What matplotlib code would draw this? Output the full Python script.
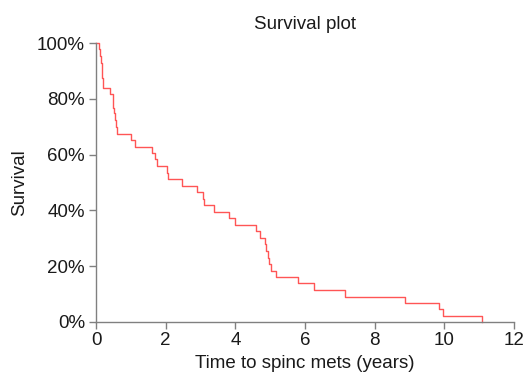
import matplotlib
matplotlib.use('Agg')
import matplotlib.pyplot as plt
from matplotlib.ticker import PercentFormatter

# step points: time (years) and survival (%) after each drop
times = [0, 0.09, 0.12, 0.14, 0.16, 0.18, 0.21, 0.40, 0.48, 0.50, 0.51, 0.54, 0.57, 0.59,
         1.01, 1.13, 1.62, 1.69, 1.75, 2.03, 2.06, 2.48, 2.89, 3.08, 3.11, 3.40, 3.81,
         3.99, 4.58, 4.71, 4.85, 4.87, 4.93, 4.98, 5.02, 5.16, 5.81, 6.27, 7.15, 8.88,
         9.84, 9.96, 11.07]
surv = [100, 97.7, 95.3, 93.0, 90.9, 87.3, 84.0, 81.6, 79.1, 76.7, 74.8, 72.4, 69.8, 67.4,
        65.2, 62.8, 60.5, 58.4, 55.8, 53.5, 51.2, 48.8, 46.5, 44.2, 41.9, 39.5, 37.2,
        34.9, 32.6, 30.2, 27.9, 25.4, 23.1, 20.8, 18.4, 16.1, 13.8, 11.4, 9.1, 6.8,
        4.5, 2.2, 0]
xticks = [0, 2, 4, 6, 8, 10, 12]
yticks = [0, 20, 40, 60, 80, 100]

plt.rcParams['font.family'] = ['Liberation Sans', 'DejaVu Sans']
fig = plt.figure(figsize=(5.28, 3.73), dpi=100)
ax = fig.add_axes([96 / 528, 1 - 322 / 373, (514 - 96) / 528, (322 - 43) / 373])

ax.step(times, surv, where='post', color='#ff5555', linewidth=1.0, clip_on=False)

ax.set_xlim(0, 12)
ax.set_ylim(0, 100)
ax.set_xticks(xticks)
ax.set_yticks(yticks)
ax.yaxis.set_major_formatter(PercentFormatter(decimals=0))
for s in ['top', 'right']:
    ax.spines[s].set_visible(False)
for s in ['left', 'bottom']:
    ax.spines[s].set_color('#808080')
    ax.spines[s].set_linewidth(1.0)
ax.tick_params(colors='#808080', labelcolor='#1a1a1a', labelsize=13.5, length=5, width=1.0)
ax.tick_params(axis='y', pad=3)
ax.tick_params(axis='x', pad=2)

ax.set_title('Survival plot', fontsize=13.5, color='#1a1a1a', pad=10)
ax.set_xlabel('Time to spinc mets (years)', fontsize=13.5, color='#1a1a1a', labelpad=4.5)
ax.set_ylabel('Survival', fontsize=13.5, color='#1a1a1a', labelpad=6)

fig.savefig('out.png', dpi=100)
